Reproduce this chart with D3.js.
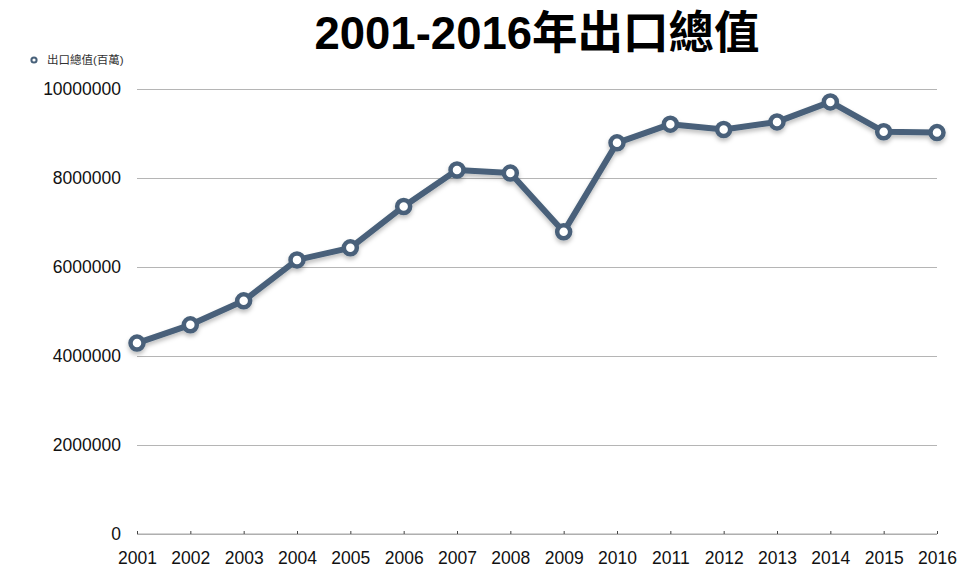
<!DOCTYPE html>
<html>
<head>
<meta charset="utf-8">
<script src="https://cdn.jsdelivr.net/npm/d3@7/dist/d3.min.js"></script>
<style>
  body { margin: 0; background: #fff; }
  svg { display: block; font-family: "Liberation Sans", Arial, "Noto Sans CJK TC", sans-serif; }
</style>
</head>
<body>
<svg id="chart" width="960" height="568"></svg>
<script>
const years = ["2001","2002","2003","2004","2005","2006","2007","2008","2009","2010","2011","2012","2013","2014","2015","2016"];
const exportValues = [4290000, 4700000, 5240000, 6160000, 6430000, 7360000, 8180000, 8110000, 6790000, 8790000, 9210000, 9090000, 9260000, 9710000, 9040000, 9020000];
const yTicks = [0, 2000000, 4000000, 6000000, 8000000, 10000000];
const titleText = "2001-2016年出口總值";
const seriesName = "出口總值(百萬)";

const svg = d3.select("#chart");
const margin = {left: 137, right: 23, top: 89, bottom: 34};
const W = 960, H = 568;

const x = d3.scalePoint().domain(years).range([margin.left, W - margin.right]);
const y = d3.scaleLinear().domain([0, 10000000]).range([H - margin.bottom, margin.top]);

const color = "#48617a";

const defs = svg.append("defs");
const f = defs.append("filter").attr("id", "shadow").attr("x", "-10%").attr("y", "-10%").attr("width", "120%").attr("height", "130%");
f.append("feDropShadow").attr("dx", 0).attr("dy", 3).attr("stdDeviation", 2).attr("flood-color", "#000").attr("flood-opacity", 0.25);

// title
svg.append("text")
  .attr("x", 537).attr("y", 49)
  .attr("text-anchor", "middle")
  .attr("font-size", 45.5).attr("font-weight", "bold")
  .attr("fill", "#000")
  .text(titleText);

// legend
svg.append("circle").attr("cx", 34).attr("cy", 60).attr("r", 2.6)
  .attr("fill", "#fff").attr("stroke", color).attr("stroke-width", 2);
svg.append("text").attr("x", 47).attr("y", 64).attr("font-size", 11.5).attr("fill", "#333").text(seriesName);

// grid + y labels
const yAxis = svg.append("g").attr("transform", `translate(${margin.left},0)`)
  .call(d3.axisLeft(y).tickValues(yTicks).tickSize(-(W - margin.left - margin.right)).tickPadding(16).tickFormat(d3.format("d")));
yAxis.select(".domain").remove();
yAxis.selectAll(".tick line").attr("stroke", "#b5b5b5").attr("stroke-width", 1);
yAxis.selectAll(".tick text").attr("font-size", 17.5).attr("fill", "#111").attr("font-family", "'Liberation Sans', Arial, sans-serif");

// x axis
const xAxis = svg.append("g").attr("transform", `translate(0,${H - margin.bottom})`)
  .call(d3.axisBottom(x).tickSize(-3).tickPadding(12));
xAxis.select(".domain").attr("stroke", "#aaa").attr("d", `M${margin.left},0H${W - margin.right}`);
xAxis.selectAll(".tick line").attr("stroke", "#444");
xAxis.selectAll(".tick text").attr("font-size", 17.5).attr("fill", "#111").attr("dy", "1.05em").attr("font-family", "'Liberation Sans', Arial, sans-serif");

// line
const data = years.map((yr, i) => ({yr, v: exportValues[i]}));
const g = svg.append("g").attr("filter", "url(#shadow)");
g.append("path").datum(data)
  .attr("fill", "none").attr("stroke", color).attr("stroke-width", 6).attr("stroke-linejoin", "round")
  .attr("d", d3.line().x(d => x(d.yr)).y(d => y(d.v)));
g.selectAll("circle").data(data).join("circle")
  .attr("cx", d => x(d.yr)).attr("cy", d => y(d.v)).attr("r", 6.5)
  .attr("fill", "#fff").attr("stroke", color).attr("stroke-width", 4.5);
</script>
</body>
</html>
